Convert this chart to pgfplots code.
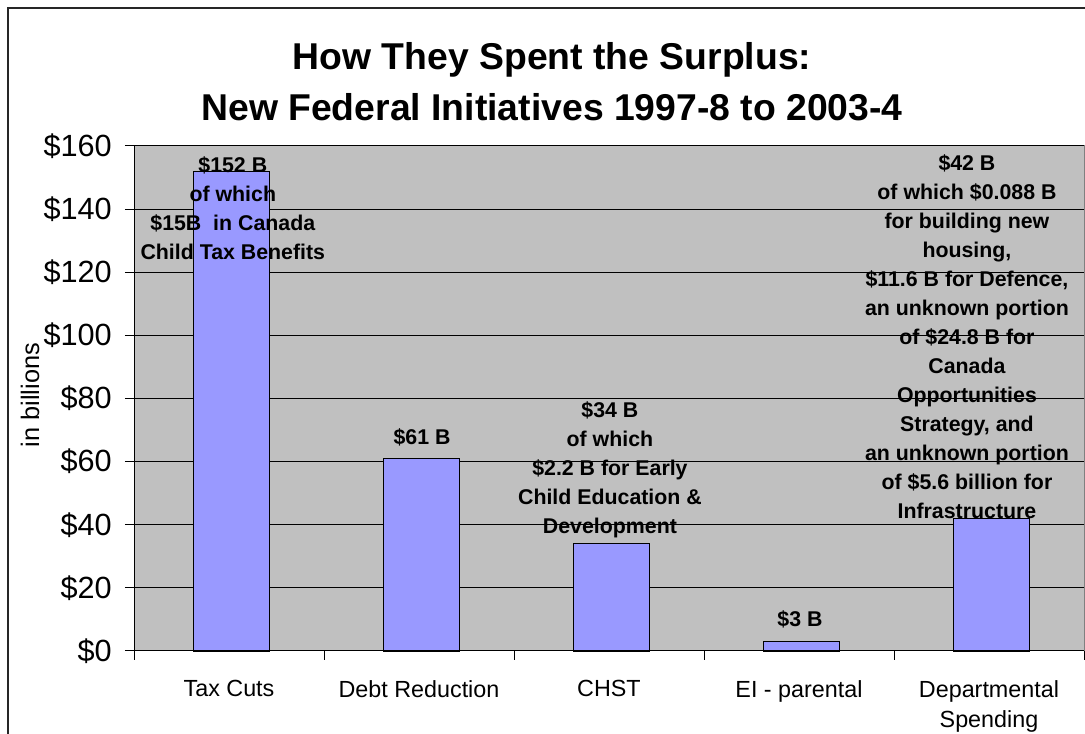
\documentclass[border=0pt]{standalone}
\usepackage{pgfplots}
\pgfplotsset{compat=1.18}
\usepackage{pgfplotstable}
\usepackage{fontspec}
\setmainfont{Liberation Sans}
\definecolor{barfill}{HTML}{9999FF}
\definecolor{plotbg}{HTML}{C0C0C0}
\definecolor{plotborder}{HTML}{808080}
\pgfplotstableread{
x val
0 152
1 61
2 34
3 3
4 42
}\spend
\begin{document}
\begin{tikzpicture}
\useasboundingbox (0,0) rectangle (813.75pt,550.5pt);
\draw[line width=1.5pt, black!85] (6pt,0) -- (6pt,544.5pt) -- (813.75pt,544.5pt);
\node[anchor=base, inner sep=0pt, font=\fontsize{28}{34}\selectfont\bfseries] at (414pt,498pt) {How They Spent the Surplus:};
\node[anchor=base, inner sep=0pt, font=\fontsize{28}{34}\selectfont\bfseries] at (414pt,459.75pt) {New Federal Initiatives 1997-8 to 2003-4};
\node[rotate=90, inner sep=0pt, font=\fontsize{19}{23}\selectfont] at (22.5pt,254.25pt) {in billions};
\begin{axis}[
  at={(100.5pt,62.25pt)}, anchor=south west,
  scale only axis, width=712.5pt, height=378.75pt,
  xmin=-0.5, xmax=4.5, ymin=0, ymax=160,
  enlargelimits=false,
  ybar, bar width=0.4,
  axis background/.style={fill=plotbg, draw=plotborder, line width=0.75pt},
  axis x line*=bottom, axis y line*=left,
  axis line style={black, line width=0.75pt},
  tick align=outside,
  major tick length=6.75pt,
  tick style={black, line width=0.75pt},
  ytick={0,20,40,60,80,100,120,140,160},
  yticklabels={\$0,\$20,\$40,\$60,\$80,\$100,\$120,\$140,\$160},
  yticklabel style={font=\fontsize{23}{27}\selectfont, inner sep=0pt, xshift=-9.75pt},
  xtick={-0.5,0.5,1.5,2.5,3.5,4.5},
  xticklabels={},
  ymajorgrids,
  grid style={black, line width=0.75pt},
  clip=false,
]
\addplot[fill=barfill, draw=black, line width=1pt, bar shift=0.012] table[x=x, y=val] {\spend};
\begin{scope}[every node/.style={inner sep=0pt, font=\fontsize{17.5}{22.5}\selectfont, align=center, anchor=north, yshift=-22pt}]
\node at (axis cs:0,0) {Tax Cuts};
\node at (axis cs:1,0) {Debt Reduction};
\node at (axis cs:2,0) {CHST};
\node at (axis cs:3,0) {EI - parental};
\node at (axis cs:4,0) {Departmental\\Spending};
\end{scope}
\begin{scope}[every node/.style={inner sep=0pt, font=\fontsize{16}{21.75}\selectfont\bfseries, align=center}]
\node at (axis cs:0.02,140.2) {\$152 B\\of which\\\$15B\ \ in Canada\\Child Tax Benefits};
\node at (axis cs:1.016,67.8) {\$61 B};
\node at (axis cs:2.005,57.4) {\$34 B\\of which\\\$2.2 B for Early\\Child Education \&\\Development};
\node at (axis cs:3.005,10.1) {\$3 B};
\node at (axis cs:3.884,99.6) {\$42 B\\of which \$0.088 B\\for building new\\housing,\\\$11.6 B for Defence,\\an unknown portion\\of \$24.8 B for\\Canada\\Opportunities\\Strategy, and\\an unknown portion\\of \$5.6 billion for\\Infrastructure};
\end{scope}
\end{axis}
\end{tikzpicture}
\end{document}
